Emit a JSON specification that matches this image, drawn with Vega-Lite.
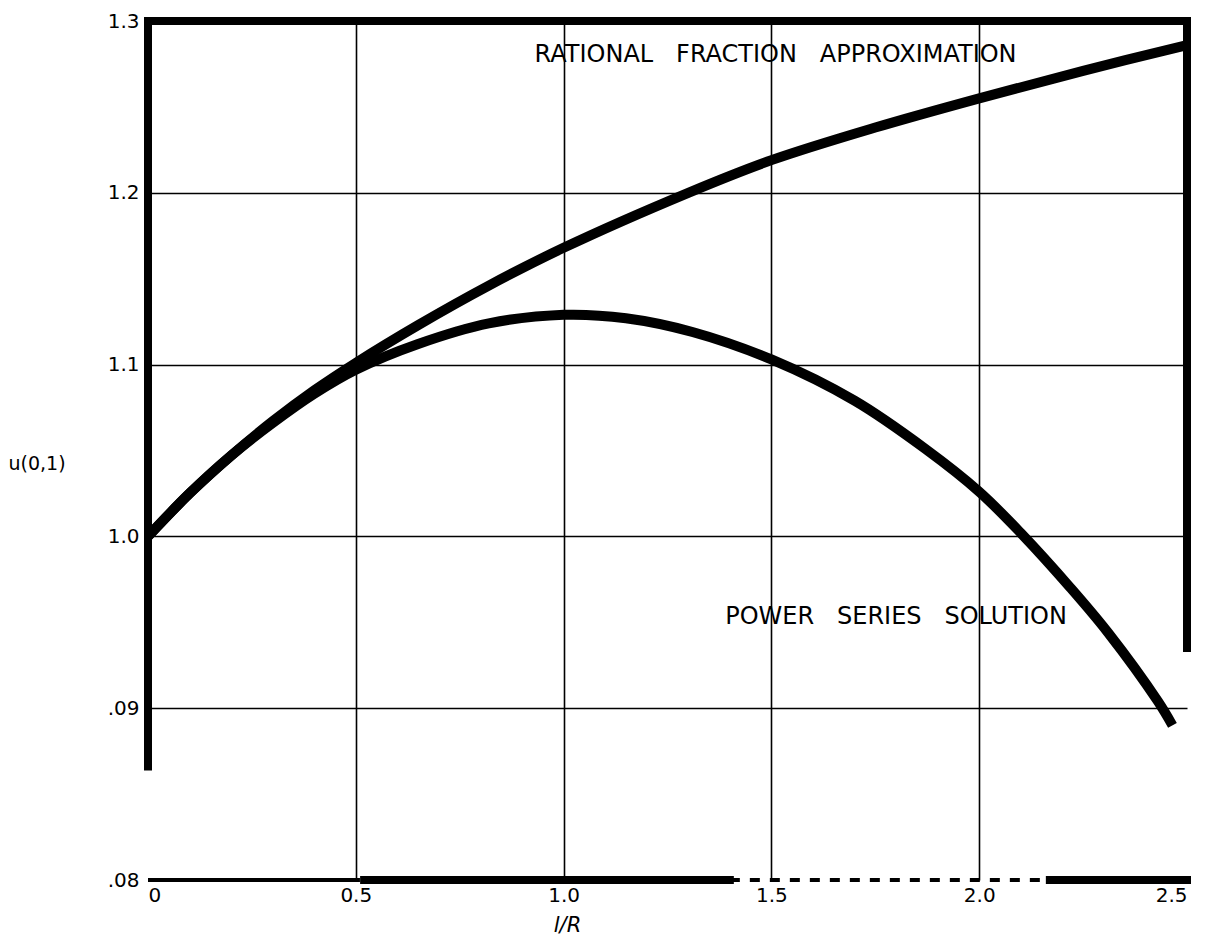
{
  "$schema": "https://vega.github.io/schema/vega-lite/v6.json",
  "width": 1039,
  "height": 859,
  "autosize": {"type": "none"},
  "padding": {"left": 148, "top": 21, "right": 34, "bottom": 61},
  "background": "white",
  "config": {
    "view": {"stroke": null},
    "font": "DejaVu Sans",
    "axis": {
      "grid": true, "gridColor": "black", "gridWidth": 1.6,
      "ticks": false, "domain": false,
      "labelFont": "DejaVu Sans", "labelFontSize": 20, "labelColor": "black",
      "titleFont": "DejaVu Sans", "titleFontWeight": "normal", "titleColor": "black"
    }
  },
  "datasets": {
    "curves": [
      {"series": "Rational fraction approximation", "x": 0.0, "y": 1.000},
      {"series": "Rational fraction approximation", "x": 0.1, "y": 1.025},
      {"series": "Rational fraction approximation", "x": 0.2, "y": 1.047},
      {"series": "Rational fraction approximation", "x": 0.3, "y": 1.067},
      {"series": "Rational fraction approximation", "x": 0.4, "y": 1.085},
      {"series": "Rational fraction approximation", "x": 0.5, "y": 1.101},
      {"series": "Rational fraction approximation", "x": 0.65, "y": 1.123},
      {"series": "Rational fraction approximation", "x": 0.82, "y": 1.146},
      {"series": "Rational fraction approximation", "x": 1.0, "y": 1.168},
      {"series": "Rational fraction approximation", "x": 1.3, "y": 1.200},
      {"series": "Rational fraction approximation", "x": 1.5, "y": 1.219},
      {"series": "Rational fraction approximation", "x": 1.75, "y": 1.238},
      {"series": "Rational fraction approximation", "x": 2.0, "y": 1.255},
      {"series": "Rational fraction approximation", "x": 2.25, "y": 1.271},
      {"series": "Rational fraction approximation", "x": 2.5, "y": 1.286},
      {"series": "Power series solution", "x": 0.0, "y": 1.000},
      {"series": "Power series solution", "x": 0.1, "y": 1.025},
      {"series": "Power series solution", "x": 0.2, "y": 1.047},
      {"series": "Power series solution", "x": 0.3, "y": 1.066},
      {"series": "Power series solution", "x": 0.4, "y": 1.083},
      {"series": "Power series solution", "x": 0.5, "y": 1.097},
      {"series": "Power series solution", "x": 0.65, "y": 1.112},
      {"series": "Power series solution", "x": 0.82, "y": 1.124},
      {"series": "Power series solution", "x": 1.0, "y": 1.129},
      {"series": "Power series solution", "x": 1.15, "y": 1.127},
      {"series": "Power series solution", "x": 1.31, "y": 1.119},
      {"series": "Power series solution", "x": 1.5, "y": 1.103},
      {"series": "Power series solution", "x": 1.7, "y": 1.079},
      {"series": "Power series solution", "x": 1.87, "y": 1.051},
      {"series": "Power series solution", "x": 2.0, "y": 1.026},
      {"series": "Power series solution", "x": 2.1, "y": 1.002},
      {"series": "Power series solution", "x": 2.22, "y": 0.970},
      {"series": "Power series solution", "x": 2.31, "y": 0.944},
      {"series": "Power series solution", "x": 2.43, "y": 0.904},
      {"series": "Power series solution", "x": 2.465, "y": 0.890}
    ],
    "frame": [
      {"part": "top", "style": "thick", "x": 0, "x2": 2.5, "y": 1.3, "y2": 1.3},
      {"part": "left", "style": "thick", "x": 0, "x2": 0, "y": 0.866, "y2": 1.3},
      {"part": "right", "style": "thick", "x": 2.5, "x2": 2.5, "y": 0.935, "y2": 1.3},
      {"part": "bottom", "style": "thin", "x": 0, "x2": 0.51, "y": 0.8, "y2": 0.8},
      {"part": "bottom", "style": "thick", "x": 0.52, "x2": 1.4, "y": 0.8, "y2": 0.8},
      {"part": "bottom", "style": "dashed", "x": 1.4, "x2": 2.17, "y": 0.8, "y2": 0.8},
      {"part": "bottom", "style": "thick", "x": 2.17, "x2": 2.5, "y": 0.8, "y2": 0.8}
    ],
    "labels": [
      {"text": "RATIONAL\u00a0\u00a0 FRACTION\u00a0\u00a0 APPROXIMATION", "x": 1.51, "y": 1.280},
      {"text": "POWER\u00a0\u00a0 SERIES\u00a0\u00a0 SOLUTION", "x": 1.80, "y": 0.953}
    ]
  },
  "encoding": {
    "x": {
      "field": "x", "type": "quantitative",
      "scale": {"domain": [0, 2.5], "nice": false, "zero": false},
      "axis": {
        "values": [0, 0.5, 1.0, 1.5, 2.0, 2.5],
        "labelExpr": "datum.value == 0 ? '0' : format(datum.value, '.1f')",
        "labelPadding": 5,
        "gridOpacity": {"condition": {"test": "datum.value < 0.01 || datum.value > 2.49", "value": 0}, "value": 1},
        "title": "l/R", "titleFontSize": 21, "titleFontStyle": "italic",
        "titleX": 419, "titleY": 45, "titleBaseline": "middle", "titleAlign": "center"
      }
    },
    "y": {
      "field": "y", "type": "quantitative",
      "scale": {"domain": [0.8, 1.3], "nice": false, "zero": false},
      "axis": {
        "values": [0.8, 0.9, 1.0, 1.1, 1.2, 1.3],
        "labelExpr": "abs(datum.value - 0.9) < 0.001 ? '.09' : abs(datum.value - 0.8) < 0.001 ? '.08' : format(datum.value, '.1f')",
        "labelPadding": 9,
        "gridOpacity": {"condition": {"test": "datum.value < 0.81 || datum.value > 1.29", "value": 0}, "value": 1},
        "title": "u(0,1)", "titleFontSize": 19, "titleAngle": 0,
        "titleAlign": "left", "titleBaseline": "middle",
        "titleX": -140, "titleY": 442
      }
    }
  },
  "layer": [
    {
      "data": {"name": "frame"},
      "transform": [{"filter": "datum.style == 'thick'"}],
      "mark": {"type": "rule", "color": "black", "strokeWidth": 8, "strokeCap": "square"},
      "encoding": {"x2": {"field": "x2"}, "y2": {"field": "y2"}}
    },
    {
      "data": {"name": "frame"},
      "transform": [{"filter": "datum.style == 'thin'"}],
      "mark": {"type": "rule", "color": "black", "strokeWidth": 4},
      "encoding": {"x2": {"field": "x2"}, "y2": {"field": "y2"}}
    },
    {
      "data": {"name": "frame"},
      "transform": [{"filter": "datum.style == 'dashed'"}],
      "mark": {"type": "rule", "color": "black", "strokeWidth": 4, "strokeDash": [10, 10]},
      "encoding": {"x2": {"field": "x2"}, "y2": {"field": "y2"}}
    },
    {
      "data": {"name": "curves"},
      "mark": {"type": "line", "color": "black", "strokeWidth": 10, "interpolate": "catmull-rom", "strokeCap": "butt"},
      "encoding": {"detail": {"field": "series", "type": "nominal"}}
    },
    {
      "data": {"name": "labels"},
      "mark": {"type": "text", "fontSize": 24, "color": "black", "align": "center", "baseline": "middle", "font": "DejaVu Sans"},
      "encoding": {"text": {"field": "text", "type": "nominal"}}
    }
  ]
}
